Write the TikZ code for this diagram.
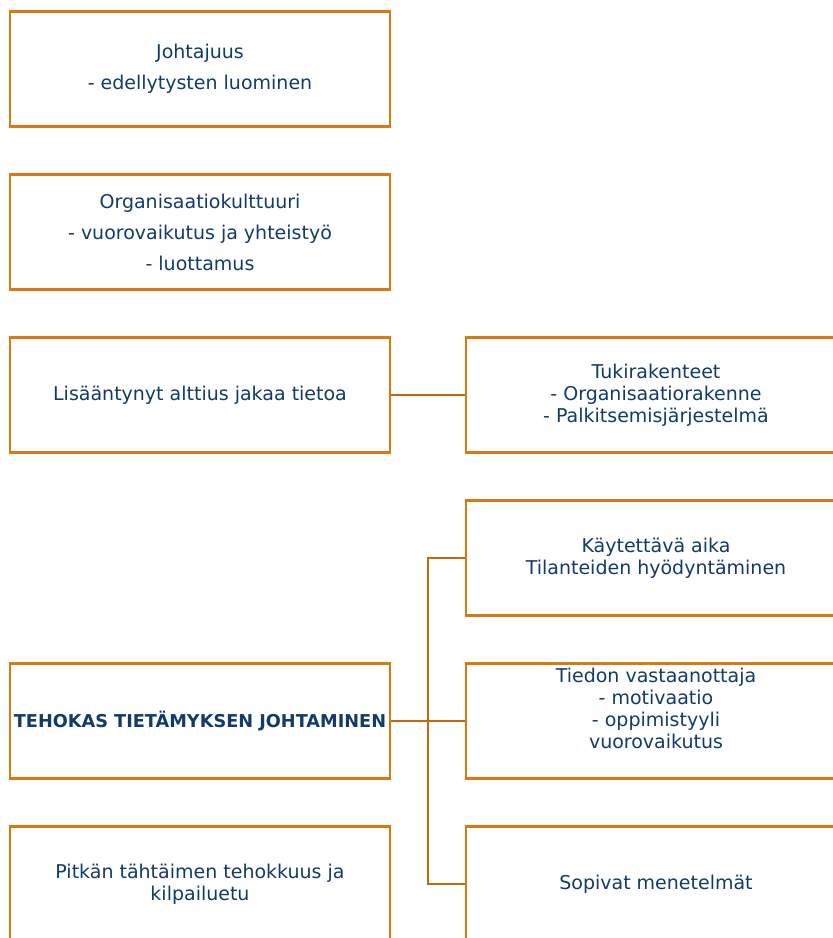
\documentclass[tikz,border=0pt]{standalone}
\usepackage{fontspec}
\setmainfont{DejaVu Sans}
\usepackage{xcolor}
\definecolor{boxline}{HTML}{D9790F}
\definecolor{conn}{HTML}{C2680E}
\definecolor{textblue}{HTML}{113B6B}
\usepackage{tikz}
\usetikzlibrary{positioning}
\tikzstyle{block} = [rectangle, draw=boxline, line width=2.7pt, text=textblue,
    minimum width=380pt, minimum height=115pt, align=center, font=\fontsize{19}{22}\selectfont]
\tikzstyle{wide} = [font=\fontsize{19}{31}\selectfont]
\tikzstyle{line} = [draw=conn, line width=2.7pt]

\begin{document}
\begin{tikzpicture}[x=1pt,y=-1pt,node distance=163pt]
    \useasboundingbox (0,0) rectangle (833,938);
    % Place nodes
    \node [block,wide] (leadership) at (200,69) {Johtajuus\\- edellytysten luominen};
    \node [block,wide,below of=leadership] (culture) {Organisaatiokulttuuri\\- vuorovaikutus ja yhteistyö\\- luottamus};
    \node [block,below of=culture] (sharing) {Lisääntynyt alttius jakaa tietoa};
    \node [block,below of=sharing,node distance=326pt,font=\fontsize{17.7}{22}\selectfont\bfseries] (effective) {TEHOKAS TIETÄMYKSEN JOHTAMINEN};
    \node [block,below of=effective] (longterm) {Pitkän tähtäimen tehokkuus ja\\kilpailuetu};

    \node [block,right of=sharing,node distance=456pt] (support) {Tukirakenteet\\- Organisaatiorakenne\\- Palkitsemisjärjestelmä};
    \node [block,below of=support] (time) {Käytettävä aika\\Tilanteiden hyödyntäminen};
    \node [block,below of=time,text depth=26pt] (receiver) {Tiedon vastaanottaja\\- motivaatio\\- oppimistyyli\\vuorovaikutus};
    \node [block,below of=receiver] (methods) {Sopivat menetelmät};

    \coordinate [right of=effective,node distance=228pt] (fork);

    % Draw edges
    \path [line] (sharing) -- (support);
    \path [line] (effective) -- (fork);
    \path [line] (fork) |- (time);
    \path [line] (fork) -- (receiver);
    \path [line] (fork) |- (methods);
\end{tikzpicture}
\end{document}
